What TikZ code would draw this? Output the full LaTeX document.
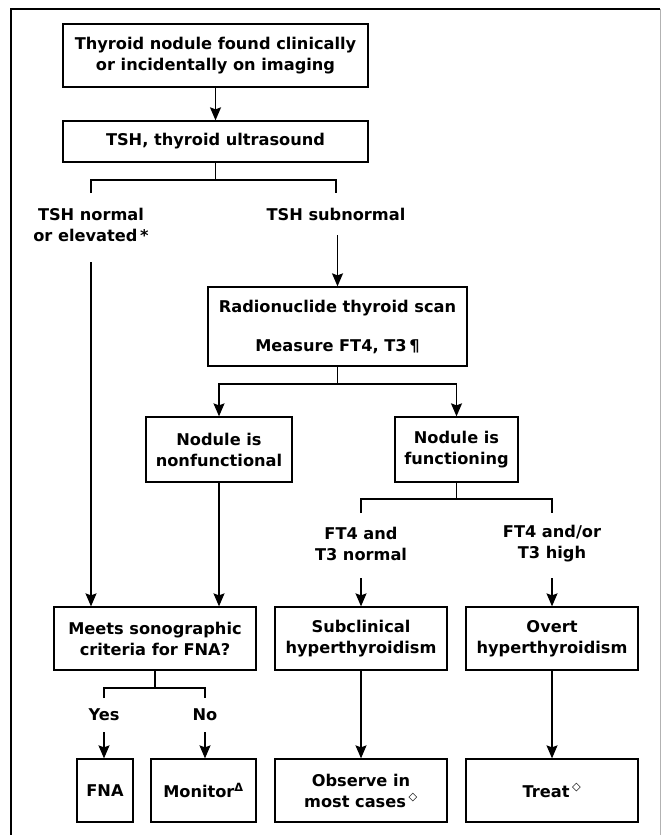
\documentclass[tikz,border=0pt]{standalone}
\usepackage{fontspec}
\setmainfont{DejaVu Sans}
\usetikzlibrary{arrows.meta}
\begin{document}
\begin{tikzpicture}[x=1pt,y=-1pt,
  txt/.style={font=\fontsize{16.2}{21}\selectfont\bfseries},
  box/.style={draw, line width=1.3pt, align=center, inner sep=0pt, txt},
  lbl/.style={align=center, inner sep=0pt, txt},
  conn/.style={line width=1.3pt},
  arr/.style={conn, -{Stealth[length=13pt,width=11pt,inset=2pt]}}]
\useasboundingbox (0,0) rectangle (661,835);
% frame
\coordinate (fa) at (11,835);
\coordinate (fb) at (11,9);
\coordinate (fc) at (660,9);
\coordinate (fd) at (660,835);
\draw[line width=1.6pt] (fa) -- (fb) -- (fc);
\draw[line width=1pt, gray!60] (fc) -- (fd);
% boxes
\node[box, minimum width=305pt, minimum height=63pt] (b1) at (215.5,55.5) {Thyroid nodule found clinically\\or incidentally on imaging};
\node[box, minimum width=305pt, minimum height=41pt] (b2) at (215.5,141.5) {TSH, thyroid ultrasound};
\node[box, minimum width=259pt, minimum height=79pt] (scan) at (337.5,326.5) {Radionuclide thyroid scan\\[18pt]Measure FT4, T3\,¶};
\node[box, minimum width=146pt, minimum height=65pt] (nonf) at (219,449.5) {Nodule is\\nonfunctional};
\node[box, minimum width=123pt, minimum height=65pt] (func) at (456.5,449.5) {Nodule is\\functioning};
\node[box, minimum width=202pt, minimum height=63pt] (meets) at (155,638.5) {Meets sonographic\\criteria for FNA?};
\node[box, minimum width=172pt, minimum height=63pt] (sub) at (361,638.5) {Subclinical\\hyperthyroidism};
\node[box, minimum width=172pt, minimum height=63pt] (overt) at (552,638.5) {Overt\\hyperthyroidism};
\node[box, minimum width=56pt, minimum height=63pt] (fna) at (105,790.5) {FNA};
\node[box, minimum width=105pt, minimum height=63pt] (mon) at (203.5,790.5) {Monitor\textsuperscript{Δ}};
\node[box, minimum width=172pt, minimum height=63pt] (obs) at (361,790.5) {Observe in\\most cases\,\textsuperscript{◇}};
\node[box, minimum width=172pt, minimum height=63pt] (treat) at (552,790.5) {Treat\,\textsuperscript{◇}};
% labels
\node[lbl] (lnorm) at (91,225) {TSH normal\\or elevated\,*};
\node[lbl] (lsub) at (336,214) {TSH subnormal};
\node[lbl] (lft1) at (361,544) {FT4 and\\T3 normal};
\node[lbl] (lft2) at (552,544) {FT4 and/or\\T3 high};
\node[lbl] (lyes) at (104,715) {Yes};
\node[lbl] (lno) at (205,715) {No};
% coordinates
\coordinate (j1) at (215.5,180);
\coordinate (j1l) at (91,180);
\coordinate (j1r) at (336,180);
\coordinate (t1l) at (91,193);
\coordinate (t1r) at (336,193);
\coordinate (s1) at (91,262);
\coordinate (s2) at (337.5,235);
\coordinate (j2) at (337.5,384);
\coordinate (j2l) at (219,384);
\coordinate (j2r) at (456.5,384);
\coordinate (j3) at (456.5,499);
\coordinate (j3l) at (361,499);
\coordinate (j3r) at (552,499);
\coordinate (t3l) at (361,513);
\coordinate (t3r) at (552,513);
\coordinate (s3l) at (361,578);
\coordinate (s3r) at (552,578);
\coordinate (j4) at (155,688);
\coordinate (j4l) at (104,688);
\coordinate (j4r) at (205,688);
\coordinate (t4l) at (104,698);
\coordinate (t4r) at (205,698);
\coordinate (s4l) at (104,732);
\coordinate (s4r) at (205,732);
% connectors
\draw[arr] (b1) -- (b2);
\draw[conn] (b2.south) -- (j1);
\draw[conn] (t1l) -- (j1l) -- (j1r) -- (t1r);
\draw[arr] (s1) -- (s1 |- meets.north);
\draw[arr] (s2) -- (scan.north);
\draw[conn] (scan.south) -- (j2);
\draw[arr] (j2) -- (j2l) -- (nonf.north);
\draw[arr] (j2) -- (j2r) -- (func.north);
\draw[arr] (nonf.south) -- (nonf.south |- meets.north);
\draw[conn] (func.south) -- (j3);
\draw[conn] (t3l) -- (j3l) -- (j3r) -- (t3r);
\draw[arr] (s3l) -- (sub.north);
\draw[arr] (s3r) -- (overt.north);
\draw[conn] (meets.south) -- (j4);
\draw[conn] (t4l) -- (j4l) -- (j4r) -- (t4r);
\draw[arr] (s4l) -- (s4l |- fna.north);
\draw[arr] (s4r) -- (s4r |- mon.north);
\draw[arr] (sub) -- (obs);
\draw[arr] (overt) -- (treat);
\end{tikzpicture}
\end{document}
